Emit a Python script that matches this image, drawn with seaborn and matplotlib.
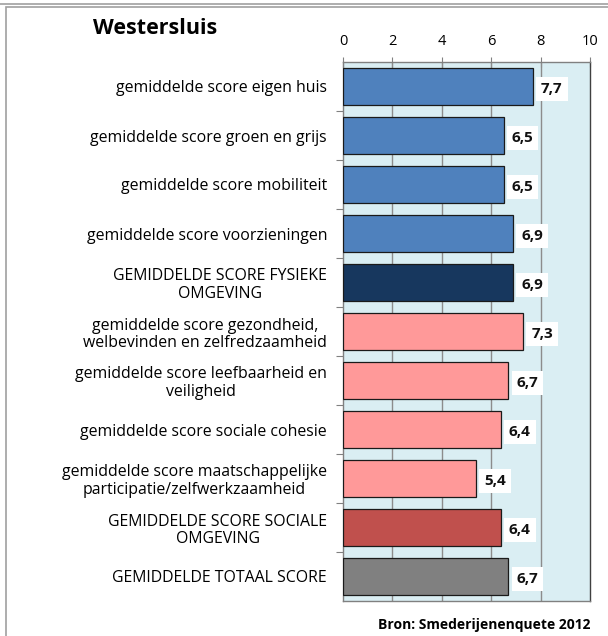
import matplotlib
matplotlib.use("Agg")
import matplotlib.pyplot as plt
import seaborn as sns
import pandas as pd
from matplotlib.patches import Rectangle
from matplotlib.lines import Line2D

categories = [
    "gemiddelde score eigen huis",
    "gemiddelde score groen en grijs",
    "gemiddelde score mobiliteit",
    "gemiddelde score voorzieningen",
    "GEMIDDELDE SCORE FYSIEKE\nOMGEVING",
    "gemiddelde score gezondheid,\nwelbevinden en zelfredzaamheid",
    "gemiddelde score leefbaarheid en\nveiligheid",
    "gemiddelde score sociale cohesie",
    "gemiddelde score maatschappelijke\nparticipatie/zelfwerkzaamheid",
    "GEMIDDELDE SCORE SOCIALE\nOMGEVING",
    "GEMIDDELDE TOTAAL SCORE",
]
values = [7.7, 6.5, 6.5, 6.9, 6.9, 7.3, 6.7, 6.4, 5.4, 6.4, 6.7]
colors = ["#4F81BD", "#4F81BD", "#4F81BD", "#4F81BD", "#17375E",
          "#FF9999", "#FF9999", "#FF9999", "#FF9999", "#C0504D", "#808080"]
value_labels = ["7,7", "6,5", "6,5", "6,9", "6,9", "7,3", "6,7", "6,4", "5,4", "6,4", "6,7"]
xticks = [0, 2, 4, 6, 8, 10]
title = "Westersluis"
source = "Bron: Smederijenenquete 2012"

sns.set_style("white")
plt.rcParams["font.family"] = ["Open Sans", "DejaVu Sans"]
plt.rcParams["text.color"] = "black"
plt.rcParams["xtick.labelcolor"] = "black"
plt.rcParams["ytick.labelcolor"] = "black"

df = pd.DataFrame({"cat": categories, "val": values})

fig = plt.figure(figsize=(6.08, 6.36), dpi=100)
ax = fig.add_axes([343/608, 1-601/636, (590-343)/608, (601-62)/636])
ax.set_facecolor("#DAEEF3")

sns.barplot(data=df, x="val", y="cat", hue="cat", palette=colors, legend=False,
            orient="h", width=0.74, saturation=1, edgecolor="#1a1a1a", linewidth=0.9,
            ax=ax, zorder=3)

ax.set_xlim(0, 10)
ax.set_ylim(len(categories) - 0.5, -0.5)
ax.set_xticks(xticks)
ax.set_xticklabels([str(t) for t in xticks], fontsize=10.5, color="black")
ax.xaxis.tick_top()
ax.tick_params(axis="x", direction="inout", length=7, width=0.8, color="#808080", pad=6)
for t in xticks[1:-1]:
    ax.axvline(t, color="#8c8c8c", lw=1.0, zorder=1)

ax.set_yticks([i + 0.5 for i in range(len(categories) - 1)], minor=True)
ax.set_yticks(range(len(categories)))
ax.set_yticklabels(categories, fontsize=11.4, ha="right", multialignment="center",
                   linespacing=1.1, color="black")
ax.tick_params(axis="y", which="major", length=0, pad=11.5)
ax.tick_params(axis="y", which="minor", direction="out", length=5, width=0.8, color="#808080", left=True)
ax.set_xlabel("")
ax.set_ylabel("")

for s in ax.spines.values():
    s.set_visible(True)
    s.set_color("#808080")
    s.set_linewidth(1.0)
ax.spines["right"].set_color("#404040")

for i, (v, lab) in enumerate(zip(values, value_labels)):
    ax.text(v + 0.32, i + 0.05, lab, ha="left", va="center", fontsize=11, fontweight="bold",
            color="#111111", zorder=5,
            bbox=dict(boxstyle="square,pad=0.32", fc="white", ec="none"))

fig.text(93/608, 1-28/636, title, fontsize=15.5, fontweight="bold", ha="left", va="center",
         color="black")
fig.text(590/608, 1-625/636, source, fontsize=10, fontweight="bold", ha="right", va="center",
         color="black")

fig.add_artist(Line2D([0, 1], [1-4/636, 1-4/636], color="#a0a0a0", lw=1.2, transform=fig.transFigure))
fig.add_artist(Rectangle((6/608, -0.05), 1.1, 1-7/636+0.05, transform=fig.transFigure,
                         fill=False, ec="#a0a0a0", lw=1.2))

fig.savefig("out.png", dpi=100)
